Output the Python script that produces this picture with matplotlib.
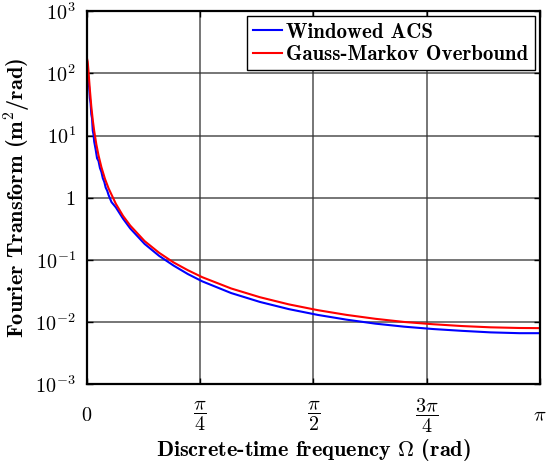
import matplotlib.pyplot as plt
import numpy as np

plt.rcParams["mathtext.fontset"] = "cm"
plt.rcParams["font.family"] = "cmb10"
plt.rcParams["axes.unicode_minus"] = False

# Gauss-Markov overbound
gm_omega = [0, 0.005, 0.01, 0.015, 0.02, 0.03, 0.04, 0.05, 0.065, 0.08, 0.1,
            0.125, 0.15, 0.2, 0.25, 0.3, 0.4, 0.5, 0.6, 0.7, 0.8, 1.0, 1.2,
            1.4, 1.6, 1.8, 2.0, 2.2, 2.4, 2.6, 2.8, 3.0, np.pi]
gm_psd = [175, 154, 113, 78, 55, 29.4, 17.9, 11.9, 7.2, 4.8, 3.1, 2.0, 1.41,
          0.80, 0.51, 0.356, 0.20, 0.130, 0.091, 0.068, 0.0525, 0.0346,
          0.0250, 0.0192, 0.0155, 0.0130, 0.01125, 0.0100, 0.0092, 0.0086,
          0.0082, 0.0080, 0.00796]

# windowed autocorrelation spectrum (a bit ragged at low frequency)
acs_omega = [0, 0.005, 0.01, 0.015, 0.02, 0.025, 0.03, 0.035, 0.04, 0.045,
             0.05, 0.06, 0.07, 0.08, 0.09, 0.1, 0.11, 0.12, 0.13, 0.14, 0.15,
             0.17, 0.2, 0.25, 0.3, 0.4, 0.5, 0.6, 0.7, 0.8, 1.0, 1.2, 1.4,
             1.6, 1.8, 2.0, 2.2, 2.4, 2.6, 2.8, 3.0, np.pi]
acs_psd = [150, 120, 75, 60, 40, 33, 22, 19, 12, 10.5, 8.0, 6.0, 4.3, 3.9,
           3.0, 2.6, 2.05, 1.8, 1.45, 1.3, 1.1, 0.85, 0.70, 0.46, 0.32, 0.18,
           0.116, 0.081, 0.059, 0.045, 0.0292, 0.0210, 0.0161, 0.0130,
           0.0109, 0.0094, 0.0084, 0.0077, 0.0072, 0.0068, 0.0066, 0.0066]

x_ticks = [0, np.pi / 4, np.pi / 2, 3 * np.pi / 4, np.pi]
x_labels = [r"$\mathbf{0}$", r"$\dfrac{\pi}{\mathbf{4}}$",
            r"$\dfrac{\pi}{\mathbf{2}}$", r"$\dfrac{\mathbf{3}\pi}{\mathbf{4}}$",
            r"$\pi$"]
y_ticks = [1e-3, 1e-2, 1e-1, 1, 1e1, 1e2, 1e3]
y_labels = [r"$\mathbf{10^{-3}}$", r"$\mathbf{10^{-2}}$",
            r"$\mathbf{10^{-1}}$", r"$\mathbf{1}$", r"$\mathbf{10^{1}}$",
            r"$\mathbf{10^{2}}$", r"$\mathbf{10^{3}}$"]

fig = plt.figure(figsize=(5.47, 4.69), dpi=100)
ax = fig.add_axes([0.159, 0.181, 0.828, 0.795])

ax.plot(acs_omega, acs_psd, color="#0000ff", lw=1.5, label="Windowed ACS")
ax.plot(gm_omega, gm_psd, color="#ff0000", lw=1.5,
        label="Gauss-Markov Overbound")

ax.set_yscale("log")
ax.set_xlim(0, np.pi)
ax.set_ylim(1e-3, 1e3)
ax.set_xticks(x_ticks)
ax.set_xticklabels(x_labels, fontsize=14.5, va="center")
ax.set_yticks(y_ticks)
ax.set_yticklabels(y_labels, fontsize=14.5)
ax.minorticks_off()
ax.tick_params(direction="in", length=4, width=1, top=True, right=True)
ax.tick_params(axis="x", pad=23)
ax.tick_params(axis="y", pad=8)
ax.grid(True, color="#333333", lw=1.1, alpha=0.85)
for s in ax.spines.values():
    s.set_linewidth(1.6)

ax.set_xlabel(r"Discrete-time frequency $\mathbf{\Omega}$ (rad)",
              fontsize=16, labelpad=1)
ax.set_ylabel(r"Fourier Transform (m$^{\mathbf{2}}$/rad)", fontsize=16)
ax.yaxis.set_label_coords(-0.12, 0.5)

leg = ax.legend(loc="upper right", fontsize=15, handlelength=1.4,
                handletextpad=0.2, borderpad=0.3, labelspacing=0.15,
                fancybox=False, framealpha=1, borderaxespad=0.25)
leg.get_frame().set_edgecolor("black")
leg.get_frame().set_linewidth(1.0)

fig.savefig("out.png", dpi=100)
